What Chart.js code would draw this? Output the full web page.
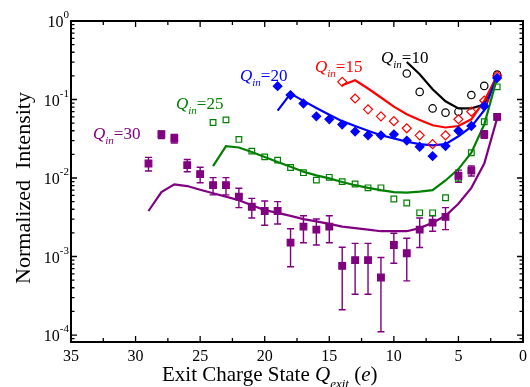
<!DOCTYPE html>
<html>
<head>
<meta charset="utf-8">
<script src="https://cdn.jsdelivr.net/npm/chart.js@4.4.0/dist/chart.umd.min.js"></script>
<style>
  html, body { margin: 0; padding: 0; background: #fff; }
  canvas { display: block; }
</style>
</head>
<body>
<canvas id="myChart" width="530" height="387"></canvas>
<script>
// exit charge states (x) and normalized intensities

// Q_in = 10 : open circles + theory line
var q10X = [9, 8, 7, 6, 5, 4, 3, 2];
var q10Data = [0.214, 0.125, 0.077, 0.068, 0.070, 0.114, 0.149, 0.208];
var q10Theory = [0.30, 0.21, 0.135, 0.095, 0.077, 0.077, 0.086, 0.205];

// Q_in = 15 : open diamonds
var q15X = [14, 13, 12, 11, 10, 9, 8, 7, 6, 5, 4, 3, 2];
var q15Data = [0.168, 0.103, 0.075, 0.061, 0.053, 0.043, 0.035, 0.027, 0.035, 0.056, 0.070, 0.097, 0.20];
var q15Theory = [0.152, 0.176, 0.138, 0.106, 0.081, 0.065, 0.055, 0.047, 0.044, 0.046, 0.056, 0.096, 0.20];

// Q_in = 20 : filled diamonds
var q20X = [19, 18, 17, 16, 15, 14, 13, 12, 11, 10, 9, 8, 7, 6, 5, 4, 3, 2];
var q20Data = [0.148, 0.114, 0.089, 0.061, 0.056, 0.048, 0.039, 0.035, 0.035, 0.036, 0.030, 0.025, 0.019, 0.0255, 0.040, 0.046, 0.082, 0.188];
var q20Theory = [0.072, 0.119, 0.096, 0.078, 0.064, 0.053, 0.046, 0.040, 0.035, 0.032, 0.029, 0.027, 0.026, 0.027, 0.034, 0.045, 0.073, 0.20];

// Q_in = 25 : open squares
var q25X = [24, 23, 22, 21, 20, 19, 18, 17, 16, 15, 14, 13, 12, 11, 10, 9, 8, 7, 6, 5, 4, 3, 2];
var q25Data = [0.051, 0.055, 0.031, 0.022, 0.0186, 0.0169, 0.0136, 0.0117, 0.0094, 0.0102, 0.0090, 0.0084, 0.0075, 0.0075, 0.0054, 0.0048, 0.0036, 0.0036, 0.0056, 0.0099, 0.021, 0.052, 0.145];
var q25Theory = [0.0142, 0.0255, 0.0245, 0.0214, 0.0185, 0.016, 0.0139, 0.012, 0.0108, 0.0099, 0.0089, 0.0081, 0.0075, 0.0070, 0.0066, 0.0065, 0.0067, 0.0070, 0.0093, 0.013, 0.021, 0.048, 0.19];

// Q_in = 30 : filled squares with error bars
var q30X = [29, 28, 27, 26, 25, 24, 23, 22, 21, 20, 19, 18, 17, 16, 15, 14, 13, 12, 11, 10, 9, 8, 7, 6, 5, 4, 3, 2];
var q30Data = [0.0153, 0.0359, 0.0319, 0.0146, 0.0112, 0.0081, 0.0081, 0.0058, 0.0043, 0.0038, 0.0038, 0.0015, 0.0024, 0.0022, 0.0024, 0.00076, 0.0009, 0.0009, 0.00054, 0.0014, 0.0011, 0.0022, 0.0027, 0.0032, 0.0107, 0.0124, 0.036, 0.060];
var q30Err = [0.003, 0.004, 0.004, 0.0026, 0.0025, 0.002, 0.002, 0.0016, 0.0012, 0.0013, 0.0012, 0.00076, 0.0009, 0.0008, 0.0009, 0.00055, 0.00057, 0.00057, 0.00043, 0.00058, 0.00061, 0.0009, 0.0006, 0.001, 0.0019, 0.0018, 0.004, 0.005];
var q30Theory = [0.0038, 0.0066, 0.0083, 0.0079, 0.0071, 0.0064, 0.0058, 0.0052, 0.0045, 0.0039, 0.0036, 0.0033, 0.0030, 0.0028, 0.0026, 0.0024, 0.0023, 0.0022, 0.0021, 0.0021, 0.0021, 0.0023, 0.0027, 0.0033, 0.0047, 0.0075, 0.0153, 0.058];

// axis ticks
var xTicks = [35, 30, 25, 20, 15, 10, 5, 0];
var yDecades = [-4, -3, -2, -1, 0];

var BLACK = '#000000', RED = '#ff0000', BLUE = '#0000ff', GREEN = '#008000', PURPLE = '#800080';
var FONT = '"Liberation Serif", "Times New Roman", serif';

function pts(xs, ys) {
    var out = [];
    for (var i = 0; i < xs.length; i++) {
        out.push({ x: xs[i], y: ys[i] });
    }
    return out;
}

function theoryLine(xs, ys, color) {
    return {
        type: 'line', data: pts(xs, ys), borderColor: color, borderWidth: 2.2,
        pointRadius: 0, fill: false, tension: 0
    };
}

function markers(xs, ys, color, style, radius, filled) {
    return {
        type: 'scatter', data: pts(xs, ys), showLine: false,
        pointStyle: style, pointRadius: radius,
        pointBorderColor: color, pointBorderWidth: 1.2,
        pointBackgroundColor: filled ? color : 'rgba(0,0,0,0)'
    };
}

// Q with italic subscript, then upright rest, e.g. "Q_in=20"
function drawQ(ctx, x, y, sub, rest, color, size) {
    ctx.fillStyle = color;
    ctx.textAlign = 'left';
    ctx.textBaseline = 'alphabetic';
    ctx.font = 'italic ' + size + 'px ' + FONT;
    ctx.fillText('Q', x, y);
    x += ctx.measureText('Q').width;
    var subSize = Math.round(size * 0.64);
    ctx.font = 'italic ' + subSize + 'px ' + FONT;
    ctx.fillText(sub, x, y + size * 0.32);
    x += ctx.measureText(sub).width;
    ctx.font = size + 'px ' + FONT;
    ctx.fillText(rest, x, y);
    return x + ctx.measureText(rest).width;
}

var errorBars = {
    id: 'errorBars',
    beforeDatasetsDraw: function (chart) {
        var ctx = chart.ctx, xs = chart.scales.x, ys = chart.scales.y;
        ctx.save();
        ctx.strokeStyle = PURPLE;
        ctx.lineWidth = 1.4;
        for (var i = 0; i < q30X.length; i++) {
            var px = xs.getPixelForValue(q30X[i]);
            var lo = q30Data[i] - q30Err[i];
            var top = ys.getPixelForValue(q30Data[i] + q30Err[i]);
            var bot = lo > 0 ? ys.getPixelForValue(lo) : chart.chartArea.bottom;
            ctx.beginPath();
            ctx.moveTo(px, top); ctx.lineTo(px, bot);
            ctx.moveTo(px - 3.5, top); ctx.lineTo(px + 3.5, top);
            ctx.moveTo(px - 3.5, bot); ctx.lineTo(px + 3.5, bot);
            ctx.stroke();
        }
        ctx.restore();
    }
};

var frame = {
    id: 'frame',
    afterDraw: function (chart) {
        var ctx = chart.ctx, a = chart.chartArea;
        var xs = chart.scales.x, ys = chart.scales.y;
        ctx.save();
        ctx.strokeStyle = '#000';
        ctx.lineWidth = 2;
        ctx.strokeRect(a.left, a.top, a.right - a.left, a.bottom - a.top);

        // x ticks, major + minor, inward on bottom and top
        ctx.lineWidth = 1.3;
        ctx.beginPath();
        for (var v = 0; v <= 35; v += 2.5) {
            var px = xs.getPixelForValue(v);
            var len = (v % 5 === 0) ? 6 : 4;
            ctx.moveTo(px, a.bottom); ctx.lineTo(px, a.bottom - len);
            ctx.moveTo(px, a.top); ctx.lineTo(px, a.top + len);
        }
        // y ticks, decades + minor, inward on left and right
        for (var d = -5; d <= 0; d++) {
            for (var m = 1; m <= 9; m++) {
                var val = m * Math.pow(10, d);
                if (val < ys.min * 0.999 || val > ys.max * 1.001) continue;
                var py = ys.getPixelForValue(val);
                var l2 = (m === 1) ? 6 : 3.5;
                ctx.moveTo(a.left, py); ctx.lineTo(a.left + l2, py);
                ctx.moveTo(a.right, py); ctx.lineTo(a.right - l2, py);
            }
        }
        ctx.stroke();

        // tick labels
        ctx.fillStyle = '#000';
        ctx.font = '16px ' + FONT;
        ctx.textAlign = 'center';
        ctx.textBaseline = 'alphabetic';
        xTicks.forEach(function (t) {
            ctx.fillText(String(t), xs.getPixelForValue(t), a.bottom + 19);
        });
        yDecades.forEach(function (d) {
            var py = ys.getPixelForValue(Math.pow(10, d));
            ctx.font = '16px ' + FONT;
            var w1 = ctx.measureText('10').width;
            ctx.font = '11px ' + FONT;
            var sup = String(d);
            var w2 = ctx.measureText(sup).width;
            var x0 = a.left - 2 - w1 - w2;
            ctx.textAlign = 'left';
            ctx.font = '16px ' + FONT;
            ctx.fillText('10', x0, py + 6);
            ctx.font = '11px ' + FONT;
            ctx.fillText(sup, x0 + w1, py - 3);
        });

        // axis titles
        ctx.font = '21px ' + FONT;
        ctx.textAlign = 'left';
        var part1 = 'Exit Charge State ';
        var tx = 162, ty = 381;
        ctx.fillText(part1, tx, ty);
        tx += ctx.measureText(part1).width;
        tx = drawQ(ctx, tx, ty, 'exit', ' (', '#000', 21);
        ctx.font = 'italic 21px ' + FONT;
        ctx.fillText('e', tx, ty);
        tx += ctx.measureText('e').width;
        ctx.font = '21px ' + FONT;
        ctx.fillText(')', tx, ty);

        ctx.save();
        ctx.translate(30, 188);
        ctx.rotate(-Math.PI / 2);
        ctx.textAlign = 'center';
        ctx.font = '22px ' + FONT;
        ctx.fillText('Normalized  Intensity', 0, 0);
        ctx.restore();

        // series labels
        drawQ(ctx, 381, 63, 'in', '=10', BLACK, 17);
        drawQ(ctx, 315, 72, 'in', '=15', RED, 17);
        drawQ(ctx, 240, 81, 'in', '=20', BLUE, 17);
        drawQ(ctx, 176, 109, 'in', '=25', GREEN, 17);
        drawQ(ctx, 93, 139, 'in', '=30', PURPLE, 17);
        ctx.restore();
    }
};

var myChartRef = document.getElementById('myChart').getContext('2d');
new Chart(myChartRef, {
    type: 'line',
    data: {
        datasets: [
            markers(q30X, q30Data, PURPLE, 'rect', 4.7, true),
            markers(q25X, q25Data, GREEN, 'rect', 4, false),
            markers(q20X, q20Data, BLUE, 'rectRot', 4.3, true),
            markers(q15X, q15Data, RED, 'rectRot', 4.5, false),
            markers(q10X, q10Data, BLACK, 'circle', 3.7, false),
            theoryLine(q30X, q30Theory, PURPLE),
            theoryLine(q25X, q25Theory, GREEN),
            theoryLine(q20X, q20Theory, BLUE),
            theoryLine(q15X, q15Theory, RED),
            theoryLine(q10X, q10Theory, BLACK)
        ]
    },
    options: {
        responsive: false,
        animation: false,
        events: [],
        layout: { padding: { left: 0, right: 7, top: 21, bottom: 0 } },
        plugins: { legend: { display: false }, tooltip: { enabled: false } },
        scales: {
            x: {
                type: 'linear', reverse: true, min: 0, max: 35,
                grid: { display: false }, border: { display: false },
                ticks: { display: false },
                afterFit: function (s) { s.height = 45; }
            },
            y: {
                type: 'logarithmic', min: 8.15e-5, max: 1,
                grid: { display: false }, border: { display: false },
                ticks: { display: false },
                afterFit: function (s) { s.width = 71; }
            }
        }
    },
    plugins: [errorBars, frame]
});
</script>
</body>
</html>
